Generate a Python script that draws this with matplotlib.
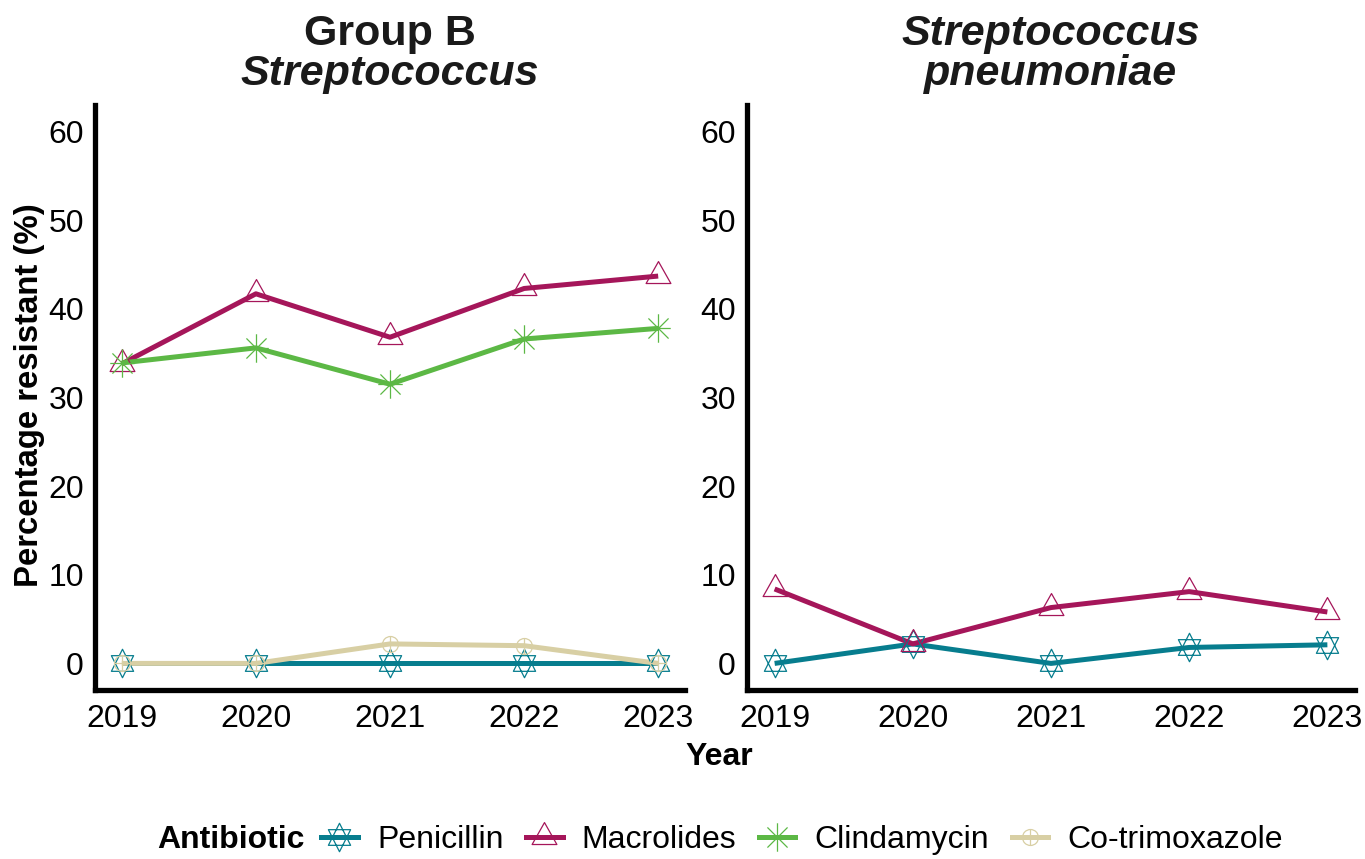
import numpy as np
import matplotlib
matplotlib.use("Agg")
import matplotlib.pyplot as plt
from matplotlib.path import Path
from matplotlib.lines import Line2D

plt.rcParams['font.family'] = ['Liberation Sans', 'DejaVu Sans']

years = [2019, 2020, 2021, 2022, 2023]

# Group B Streptococcus
gbs_penicillin = [0, 0, 0, 0, 0]
gbs_macrolides = [33.8, 41.7, 36.8, 42.3, 43.7]
gbs_clindamycin = [33.9, 35.6, 31.5, 36.6, 37.8]
gbs_cotrimoxazole = [0, 0, 2.2, 2.0, 0]

# Streptococcus pneumoniae
spn_penicillin = [0, 2.2, 0, 1.8, 2.1]
spn_macrolides = [8.4, 2.2, 6.3, 8.1, 5.8]

antibiotics = ["Penicillin", "Macrolides", "Clindamycin", "Co-trimoxazole"]
colours = {"Penicillin": "#077d8e", "Macrolides": "#a5165a",
           "Clindamycin": "#5cb845", "Co-trimoxazole": "#d8cfa4"}


# ggplot-like point shapes
def star_path():
    w, h = 0.78, 0.55
    verts = [(0, 1), (-w, -h), (w, -h), (0, 1),
             (0, -1), (-w, h), (w, h), (0, -1)]
    codes = [Path.MOVETO, Path.LINETO, Path.LINETO, Path.CLOSEPOLY] * 2
    return Path(verts, codes)


def triangle_path():
    verts = [(0, 1), (-0.83, -0.47), (0.83, -0.47), (0, 1)]
    codes = [Path.MOVETO, Path.LINETO, Path.LINETO, Path.CLOSEPOLY]
    return Path(verts, codes)


def asterisk_path():
    d = 0.7071
    segs = [((0, -1), (0, 1)), ((-0.86, 0), (0.86, 0)),
            ((-d, -d), (d, d)), ((-d, d), (d, -d))]
    verts, codes = [], []
    for a, b in segs:
        verts += [a, b]
        codes += [Path.MOVETO, Path.LINETO]
    return Path(verts, codes)


def circle_plus_path():
    circ = Path.unit_circle()
    plus = Path([(0, -1), (0, 1), (-1, 0), (1, 0)],
                [Path.MOVETO, Path.LINETO, Path.MOVETO, Path.LINETO])
    return Path.make_compound_path(circ, plus)


markers = {"Penicillin": (star_path(), 20.5),
           "Macrolides": (triangle_path(), 21.5),
           "Clindamycin": (asterisk_path(), 20.5),
           "Co-trimoxazole": (circle_plus_path(), 11.5)}

LW = 3.6
MEW = 0.9
FS = 23

fig = plt.figure(figsize=(13.65, 8.59), dpi=100)
W, H = 1365, 859
ax1 = fig.add_axes([95 / W, 1 - 690 / H, 590 / W, 585 / H])
ax2 = fig.add_axes([747 / W, 1 - 690 / H, 608 / W, 585 / H])


def draw_panel(ax, series):
    for name, vals in series:
        ax.plot(years, vals, color=colours[name], lw=LW, zorder=2,
                solid_capstyle='butt')
    for name, vals in series:
        m, ms = markers[name]
        ax.plot(years, vals, ls='none', marker=m, ms=ms, mfc='none',
                mec=colours[name], mew=MEW, zorder=3)
    ax.set_xlim(2018.8, 2023.2)
    ax.set_ylim(-3, 63)
    ax.set_xticks(years)
    ax.set_yticks([0, 10, 20, 30, 40, 50, 60])
    ax.tick_params(length=0, labelsize=FS, pad=8, colors='black')
    ax.tick_params(axis='x', pad=10)
    for s in ['top', 'right']:
        ax.spines[s].set_visible(False)
    for s in ['left', 'bottom']:
        ax.spines[s].set_linewidth(3.8)
        ax.spines[s].set_color('black')
        ax.spines[s].set_capstyle('projecting')


draw_panel(ax1, [("Penicillin", gbs_penicillin),
                 ("Macrolides", gbs_macrolides),
                 ("Clindamycin", gbs_clindamycin),
                 ("Co-trimoxazole", gbs_cotrimoxazole)])
draw_panel(ax2, [("Penicillin", spn_penicillin),
                 ("Macrolides", spn_macrolides)])

# panel titles
c1 = (95 + 685) / 2 / W
c2 = (747 + 1355) / 2 / W
fig.text(c1, 1 - 45 / H, "Group B", ha='center', va='baseline',
         fontsize=31, fontweight='bold', color='#1a1a1a')
fig.text(c1, 1 - 85 / H, "Streptococcus", ha='center', va='baseline',
         fontsize=31, fontweight='bold', style='italic', color='#1a1a1a')
fig.text(c2, 1 - 45 / H, "Streptococcus", ha='center', va='baseline',
         fontsize=31, fontweight='bold', style='italic', color='#1a1a1a')
fig.text(c2, 1 - 85 / H, "pneumoniae", ha='center', va='baseline',
         fontsize=31, fontweight='bold', style='italic', color='#1a1a1a')

# axis labels
fig.text(30 / W, 1 - 395 / H, "Percentage resistant (%)", rotation=90,
         ha='center', va='center', fontsize=23.7, fontweight='bold')
fig.text(719 / W, 1 - 757 / H, "Year", ha='center', va='center',
         fontsize=FS, fontweight='bold')

# legend
handles = []
for name in antibiotics:
    m, ms = markers[name]
    handles.append(Line2D([], [], color=colours[name], lw=LW, marker=m,
                          ms=ms, mfc='none', mec=colours[name], mew=MEW))
fig.text(157 / W, 1 - 840 / H, "Antibiotic", ha='left', va='center',
         fontsize=FS, fontweight='bold')
fig.legend(handles, antibiotics, loc='center left',
           bbox_to_anchor=(321 / W, 1 - 840 / H), ncol=4, frameon=False,
           fontsize=FS, handlelength=1.15, handletextpad=0.6,
           columnspacing=0.7, borderpad=0, borderaxespad=0, numpoints=1)

fig.savefig("out.png", dpi=100)
